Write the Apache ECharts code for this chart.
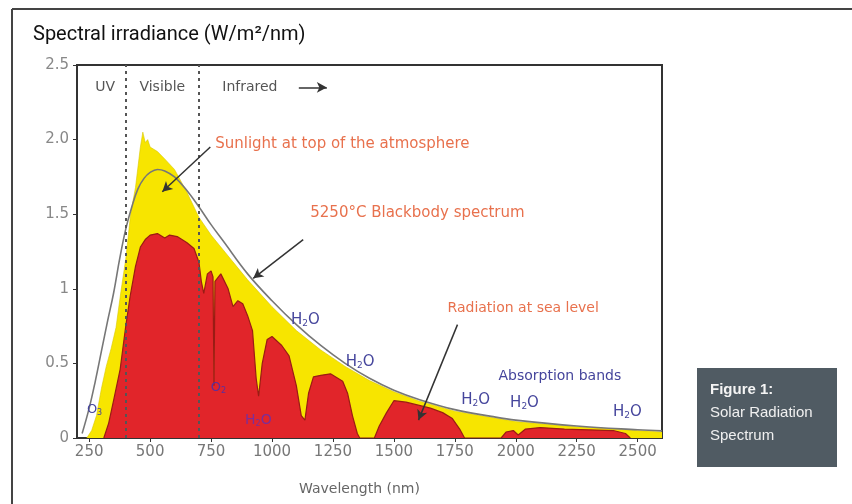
<!DOCTYPE html>
<html><head><meta charset="utf-8">
<script src="https://cdn.jsdelivr.net/npm/echarts@6/dist/echarts.min.js"></script>
<style>html,body{margin:0;padding:0;background:#fff}#c{width:852px;height:504px}</style>
</head><body><div id="c"></div>
<script>
// Wavelength ticks and y tick labels
const xTicks = [250,500,750,1000,1250,1500,1750,2000,2250,2500];
const yTickLabels = {0:'0',0.5:'0.5',1:'1',1.5:'1.5',2:'2.0',2.5:'2.5'};

// 5250 °C blackbody curve
const bbX = [221,250,275,300,325,350,375,400,425,450,475,500,530,560,600,650,700,750,800,900,1000,1100,1200,1300,1400,1500,1600,1750,1900,2000,2250,2500,2600];
const bbY = [0.03,0.2,0.38,0.58,0.78,0.97,1.2,1.4,1.55,1.67,1.74,1.78,1.80,1.79,1.75,1.66,1.55,1.43,1.32,1.10,0.92,0.76,0.62,0.50,0.40,0.32,0.26,0.19,0.145,0.12,0.08,0.055,0.048];

// Sunlight at top of the atmosphere
const toaX = [240,260,280,300,320,340,360,380,400,420,440,460,470,480,490,500,530,560,600,650,700,750,800,900,1000,1100,1200,1300,1400,1500,1600,1750,2000,2250,2500,2600];
const toaY = [0,0.05,0.15,0.33,0.48,0.6,0.74,0.98,1.2,1.5,1.68,1.95,2.05,1.98,2.0,1.95,1.92,1.87,1.80,1.65,1.48,1.36,1.26,1.06,0.88,0.72,0.59,0.48,0.385,0.31,0.25,0.18,0.11,0.075,0.05,0.04];

// Radiation at sea level
const seaX = [310,330,350,377,400,418,440,460,480,500,530,560,580,611,650,680,700,710,720,735,750,758,762,766,790,820,840,860,880,900,920,935,945,960,980,1000,1040,1070,1100,1120,1135,1150,1170,1200,1240,1270,1290,1310,1330,1350,1360,1420,1440,1470,1500,1550,1600,1650,1700,1740,1770,1790,1940,1960,1990,2010,2040,2100,2200,2300,2400,2450,2470];
const seaY = [0,0.1,0.25,0.46,0.75,0.95,1.15,1.28,1.33,1.36,1.37,1.34,1.36,1.35,1.31,1.27,1.18,1.05,0.97,1.1,1.12,1.08,0.35,1.05,1.10,1.0,0.88,0.92,0.90,0.82,0.72,0.4,0.28,0.5,0.66,0.68,0.62,0.55,0.35,0.15,0.12,0.3,0.41,0.42,0.43,0.40,0.38,0.3,0.15,0.03,0,0,0.08,0.17,0.25,0.24,0.22,0.2,0.17,0.13,0.06,0,0,0.04,0.05,0.02,0.06,0.07,0.06,0.055,0.05,0.03,0];

// Region boundaries
const regionLines = [400,700];

const zip = (a,b)=>a.map((v,i)=>[v,b[i]]);
const chart = echarts.init(document.getElementById('c'));
const orange = '#e8714d', blue = '#45459c', FF = 'DejaVu Sans';
function txt(x,y,text,color,size,align){
  return {coord:[x,y], symbolSize:0, value:0,
    label:{show:true, position:'inside', formatter:text, color:color, fontSize:size, fontFamily:FF,
      align:align||'center', verticalAlign:'middle', rich:{s:{fontSize:Math.round(size*0.6), fontFamily:FF, color:color, padding:[7,0,0,0]}}}};
}
const ax = (x1,y1,x2,y2)=>[{coord:[x1,y1]},{coord:[x2,y2]}];

chart.setOption({
  animation:false,
  title:{text:'Spectral irradiance (W/m²/nm)', left:28, top:20, textStyle:{fontSize:20, fontWeight:'normal', color:'#111', fontFamily:'Roboto'}},
  grid:{left:77, right:190, top:65, bottom:66, show:true, borderColor:'#333', borderWidth:2, backgroundColor:'transparent'},
  xAxis:{type:'value', min:200, max:2600, name:'Wavelength (nm)', nameLocation:'middle', nameGap:44,
    nameTextStyle:{color:'#666', fontSize:14, fontFamily:FF, padding:[0,20,0,0]},
    axisLine:{lineStyle:{color:'#333', width:2}}, splitLine:{show:false},
    axisTick:{customValues:xTicks, length:4, lineStyle:{color:'#333'}},
    axisLabel:{customValues:xTicks, color:'#777', fontSize:15, fontFamily:FF, margin:7, formatter:v=>String(v)}},
  yAxis:{type:'value', min:0, max:2.5, interval:0.5,
    axisLine:{show:true, lineStyle:{color:'#333', width:2}}, splitLine:{show:false},
    axisTick:{show:true, length:4, lineStyle:{color:'#333'}},
    axisLabel:{color:'#888', fontSize:15, fontFamily:FF, margin:8, formatter:v=>yTickLabels[v]}},
  series:[
    {type:'line', name:'top', data:zip(toaX,toaY), showSymbol:false, smooth:false,
      lineStyle:{width:0.6, color:'#d8c800'}, areaStyle:{color:'#f7e500', opacity:1}, z:2},
    {type:'line', name:'sea', data:zip(seaX,seaY), showSymbol:false,
      lineStyle:{width:1.2, color:'#9a1c14'}, areaStyle:{color:'#e1252a', opacity:1}, z:3},
    {type:'line', name:'bb', data:zip(bbX,bbY), showSymbol:false, smooth:0.4,
      lineStyle:{width:1.6, color:'#777'}, z:4,
      markLine:{silent:true, symbol:['none','none'], label:{show:false},
        lineStyle:{type:[3,4], color:'#555', width:2},
        data:regionLines.map(v=>({xAxis:v}))},
      markPoint:{silent:true, data:[
        txt(316,2.35,'UV','#555',14),
        txt(550,2.35,'Visible','#555',14),
        txt(796,2.35,'Infrared','#555',14,'left'),
        txt(767,1.97,'Sunlight at top of the atmosphere',orange,15,'left'),
        txt(1157,1.51,'5250°C Blackbody spectrum',orange,15,'left'),
        txt(1720,0.87,'Radiation at sea level',orange,14,'left'),
        txt(1137,0.79,'H{s|2}O',blue,15),
        txt(1362,0.51,'H{s|2}O',blue,15),
        txt(1929,0.41,'Absorption bands',blue,14,'left'),
        txt(1835,0.255,'H{s|2}O',blue,15),
        txt(2036,0.235,'H{s|2}O',blue,15),
        txt(2458,0.174,'H{s|2}O',blue,15),
        txt(780,0.34,'O{s|2}','#5a2fa0',13),
        txt(944,0.12,'H{s|2}O','#7a2f9a',14),
        txt(272,0.19,'O{s|3}',blue,13)
      ]}},
    {type:'line', name:'arrows', data:[], z:6,
      markLine:{silent:true, symbol:['none','arrow'], symbolSize:[8,10], label:{show:false},
        lineStyle:{type:'solid', color:'#333', width:1.5},
        data:[ax(747,1.95,550,1.65), ax(1128,1.33,923,1.07), ax(1761,0.76,1601,0.12), ax(1110,2.35,1225,2.35)]}}
  ],
  graphic:[
    {type:'line', shape:{x1:12,y1:9,x2:852,y2:9}, style:{stroke:'#444', lineWidth:2}},
    {type:'line', shape:{x1:12,y1:9,x2:12,y2:504}, style:{stroke:'#444', lineWidth:2}},
    {type:'rect', shape:{x:697,y:368,width:140,height:99}, style:{fill:'#505b63'}},
    {type:'text', left:710, top:382, style:{text:'Figure 1:', fill:'#f4f4f4', font:'bold 15px "Liberation Sans"'}},
    {type:'text', left:710, top:405, style:{text:'Solar Radiation', fill:'#f0f0f0', font:'15px "Liberation Sans"'}},
    {type:'text', left:710, top:428, style:{text:'Spectrum', fill:'#f0f0f0', font:'15px "Liberation Sans"'}}
  ]
});
</script></body></html>
